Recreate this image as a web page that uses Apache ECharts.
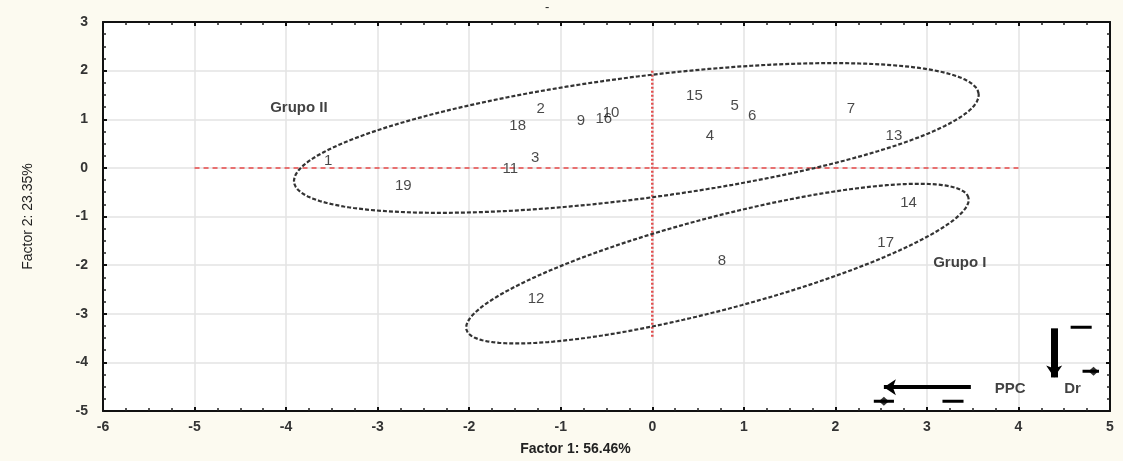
<!DOCTYPE html>
<html>
<head>
<meta charset="utf-8">
<script src="https://cdn.jsdelivr.net/npm/echarts@6/dist/echarts.min.js"></script>
<style>
  html, body { margin: 0; padding: 0; background: #fcfaf0; }
  #chart { width: 1123px; height: 461px; }
</style>
</head>
<body>
<div id="chart"></div>
<script>
// Factor scores of the 19 samples (Factor 1 vs Factor 2)
const pointIds = ['1','2','3','4','5','6','7','8','9','10','11','12','13','14','15','16','17','18','19'];
const factor1  = [-3.54, -1.22, -1.28, 0.63, 0.90, 1.09, 2.17, 0.76, -0.78, -0.45, -1.55, -1.27, 2.64, 2.80, 0.46, -0.53, 2.55, -1.47, -2.72];
const factor2  = [ 0.14,  1.21,  0.21, 0.66, 1.27, 1.07, 1.21, -1.91, 0.96, 1.13, -0.02, -2.69, 0.66, -0.72, 1.48, 1.00, -1.54, 0.86, -0.37];

// Group names and where they are written
const groupNames = ['Grupo II', 'Grupo I'];
const groupX = [-3.86, 3.36];
const groupY = [1.23, -1.95];

// Group ellipses: centre and two conjugate half-axes (factor units)
const ellipseCenters = [[-0.174, 0.615], [0.712, -1.969]];
const ellipseAxisA   = [[3.739, 0.911], [2.742, 1.358]];
const ellipseAxisB   = [[-0.085, 1.241], [-0.128, 0.923]];

// Reference lines through the origin
const zeroLineX = [[-5, 0], [4, 0]];
const zeroLineY = [[0, 2], [0, -3.5]];

// Key in the lower right corner
const keyArrows   = [[[3.48, -4.51], [2.53, -4.51]], [[4.39, -3.30], [4.39, -4.31]]];
const keyDashes   = [[[4.57, -3.28], [4.80, -3.28]], [[3.17, -4.80], [3.40, -4.80]], [[4.70, -4.18], [4.88, -4.18]], [[2.42, -4.80], [2.64, -4.80]]];
const keyDiamonds = [[4.82, -4.18], [2.53, -4.80]];
const keyWords    = ['PPC', 'Dr'];
const keyWordX    = [3.91, 4.59];
const keyWordY    = [-4.55, -4.55];

function ellipseOutline(c, a, b, steps) {
  const pts = [];
  for (let i = 0; i <= steps; i++) {
    const t = (i / steps) * Math.PI * 2;
    pts.push([c[0] + a[0] * Math.cos(t) + b[0] * Math.sin(t),
              c[1] + a[1] * Math.cos(t) + b[1] * Math.sin(t)]);
  }
  return pts;
}

const chart = echarts.init(document.getElementById('chart'), null, { renderer: 'canvas' });

const font = 'Liberation Sans, Arial, sans-serif';
const axisLine = { show: true, onZero: false, lineStyle: { color: '#111', width: 2 } };
const axisTick = { show: true, inside: true, length: 4, lineStyle: { color: '#111', width: 2 } };
const minorTick = { show: true, splitNumber: 4, length: 3, lineStyle: { color: '#222', width: 1.5 } };

const series = [];

// ellipses
ellipseCenters.forEach((c, i) => {
  series.push({
    type: 'line', silent: true, showSymbol: false, symbol: 'none',
    data: ellipseOutline(c, ellipseAxisA[i], ellipseAxisB[i], 240),
    lineStyle: { color: '#333', width: 2.2, type: [4, 2] },
    z: 3
  });
});

// red zero lines
series.push({
  type: 'line', silent: true, symbol: 'none', data: zeroLineX,
  lineStyle: { color: 'rgba(232,90,90,0.85)', width: 2, type: [5, 4] }, z: 2
});
series.push({
  type: 'line', silent: true, symbol: 'none', data: zeroLineY,
  lineStyle: { color: 'rgba(225,60,60,0.9)', width: 2.5, type: [2, 2] }, z: 2
});

// sample labels
series.push({
  type: 'scatter', silent: true, symbolSize: 0,
  data: pointIds.map((id, i) => ({ name: id, value: [factor1[i], factor2[i]] })),
  label: { show: true, position: 'inside', formatter: '{b}', color: '#1a1a1a',
           fontSize: 15, fontFamily: font },
  z: 5
});

// group names
series.push({
  type: 'scatter', silent: true, symbolSize: 0,
  data: groupNames.map((g, i) => ({ name: g, value: [groupX[i], groupY[i]] })),
  label: { show: true, position: 'inside', formatter: '{b}', color: '#111',
           fontSize: 15, fontWeight: 'bold', fontFamily: font },
  z: 5
});

// key: arrows
series.push({
  type: 'lines', coordinateSystem: 'cartesian2d', silent: true,
  symbol: ['none', 'arrow'], symbolSize: 12,
  data: [
    { coords: keyArrows[0], lineStyle: { width: 4 } },
    { coords: keyArrows[1], lineStyle: { width: 7 } }
  ],
  lineStyle: { color: '#000', opacity: 1, curveness: 0 },
  z: 6
});
// key: dashes
keyDashes.forEach(d => {
  series.push({
    type: 'line', silent: true, symbol: 'none', data: d,
    lineStyle: { color: '#000', width: 3 }, z: 6
  });
});
// key: diamonds
series.push({
  type: 'scatter', silent: true, symbol: 'diamond', symbolSize: [10, 9],
  data: keyDiamonds, itemStyle: { color: '#000' }, z: 7
});
// key: words
series.push({
  type: 'scatter', silent: true, symbolSize: 0,
  data: keyWords.map((w, i) => ({ name: w, value: [keyWordX[i], keyWordY[i]] })),
  label: { show: true, position: 'inside', formatter: '{b}', color: '#111',
           fontSize: 15, fontWeight: 'bold', fontFamily: font },
  z: 6
});

chart.setOption({
  animation: false,
  backgroundColor: '#fcfaf0',
  title: { text: '-', left: 540, top: -4, textStyle: { fontSize: 13, color: '#222', fontWeight: 'normal' } },
  grid: { left: 103, right: 13, top: 22, bottom: 49, show: true, backgroundColor: '#ffffff', borderWidth: 0 },
  xAxis: [
    {
      type: 'value', min: -6, max: 5, interval: 1, position: 'bottom',
      name: 'Factor 1: 56.46%', nameLocation: 'middle', nameGap: 31,
      nameTextStyle: { fontSize: 14, fontWeight: 'bold', color: '#222', fontFamily: font, padding: [0, 62, 0, 0] },
      axisLine, axisTick, minorTick,
      axisLabel: { fontSize: 14, fontWeight: 'bold', color: '#333', fontFamily: font, margin: 9 },
      splitLine: { show: true, lineStyle: { color: '#e3e3e3', width: 1.5 } }
    },
    {
      type: 'value', min: -6, max: 5, interval: 1, position: 'top',
      axisLine, axisTick, minorTick, axisLabel: { show: false }, splitLine: { show: false }
    }
  ],
  yAxis: [
    {
      type: 'value', min: -5, max: 3, interval: 1, position: 'left',
      name: 'Factor 2: 23.35%', nameLocation: 'middle', nameGap: 68,
      nameTextStyle: { fontSize: 14, color: '#222', fontFamily: 'Liberation Sans Narrow, Liberation Sans, sans-serif' },
      axisLine, axisTick, minorTick,
      axisLabel: { fontSize: 14, fontWeight: 'bold', color: '#333', fontFamily: font, margin: 15 },
      splitLine: { show: true, lineStyle: { color: '#e3e3e3', width: 1.5 } }
    },
    {
      type: 'value', min: -5, max: 3, interval: 1, position: 'right',
      axisLine, axisTick, minorTick, axisLabel: { show: false }, splitLine: { show: false }
    }
  ],
  series
});
</script>
</body>
</html>
